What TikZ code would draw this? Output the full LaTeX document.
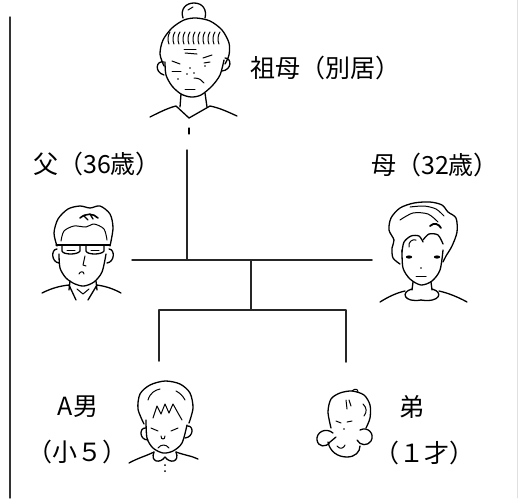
\documentclass[tikz,border=0pt]{standalone}
\usepackage{fontspec}
\newfontfamily\jp{Noto Sans CJK JP}
\begin{document}
\begin{tikzpicture}[x=1pt,y=-1pt,
  line cap=round,line join=round,
  tree/.style={line width=1.5pt,black!85},
  face/.style={line width=1.3pt},
  fine/.style={line width=1pt},
  lbl/.style={font=\jp\fontsize{25}{27}\selectfont,inner sep=0pt}]
\useasboundingbox (0,0) rectangle (518,498);

% frame lines at the sides
\draw[line width=1.4pt,black!80] (10,17) -- (10,498);
\draw[line width=0.8pt,black!12] (517,0) -- (517,498);

% ---------- family tree connectors ----------
\coordinate (gmstem) at (187,150);
\coordinate (fleft) at (132,260);
\coordinate (fmid) at (251,260);
\coordinate (fright) at (372,260);
\coordinate (gmfoot) at (187,260);
\coordinate (kbar) at (251,310);
\coordinate (kleft) at (159,310);
\coordinate (kright) at (346,310);
\coordinate (kA) at (159,361);
\coordinate (kB) at (346,362);
\draw[tree] (gmstem) -- (gmfoot);
\draw[tree] (fleft) -- (fright);
\draw[tree] (fmid) -- (kbar);
\draw[tree] (kA) -- (kleft) -- (kright) -- (kB);

% ---------- labels ----------
\node[lbl] (tgm) at (325,68) {祖母（別居）};
\node[lbl] (tfa) at (97,164) {父（36歳）};
\node[lbl] (tmo) at (435,165) {母（32歳）};
\node[lbl] (ta1) at (78,407) {A男};
\node[lbl] (ta2) at (77,452) {（小５）};
\node[lbl] (tb1) at (412,407) {弟};
\node[lbl] (tb2) at (424,453) {（１才）};

% ---------- grandmother ----------
\begin{scope}[face]
\draw (183,18) .. controls (180,9) and (186,3) .. (194,3) .. controls (203,3) and (207,10) .. (205,18);
\draw[fine] (188,10) -- (193,7);
\draw plot[smooth] coordinates {(164,66) (160,54) (163,40) (172,28) (184,20) (196,18) (210,21) (222,30) (229,43) (229,55) (225,64)};
\foreach \x in {169,174,179,184,189,194,199,204,209,214,219}
  \draw[fine] (\x,44) .. controls (\x-2,40) and (\x-1,35) .. (\x+1,32);
\draw plot[smooth] coordinates {(165,62) (166,75) (172,86) (181,94) (191,97) (201,95) (212,86) (220,75) (224,60)};
\draw (164,62) .. controls (156,60) and (154,72) .. (164,75);
\draw (225,58) .. controls (232,58) and (232,70) .. (222,71);
\draw[fine] (172,61) -- (180,64);
\draw[fine] (203,58) -- (212,55);
\draw[fine] (172,71) -- (181,71);
\draw[fine] (184,49) -- (196,49);
\draw[fine] (185,53) -- (197,54);
\draw[fine] (204,63) -- (210,62);
\fill (190,68) circle (0.9) (187,74) circle (0.9) (194,73) circle (0.9) (178,79) circle (0.8) (205,66) circle (0.8);
\draw[fine] (194,78) .. controls (199,78) and (202,80) .. (204,83);
\draw[fine] (185,89) -- (195,89);
\draw (181,94) -- (180,107);
\draw (205,93) -- (207,107);
\draw (150,117) .. controls (160,112) and (168,108) .. (176,106) -- (189,118);
\draw (237,116) .. controls (228,112) and (220,108) .. (210,106) -- (189,118);
\draw (189,128) -- (189,134);
\end{scope}

% ---------- father ----------
\begin{scope}[face]
\draw plot[smooth] coordinates {(57,246) (54,233) (58,219) (68,209) (80,206) (90,208) (100,206) (110,214) (113,228) (110,246)};
\draw[fine] plot[smooth] coordinates {(61,241) (64,231) (74,226) (86,227) (94,224) (104,229) (107,240)};
\draw[line width=1.6pt] (80,218) .. controls (86,213) and (93,213) .. (98,218);
\draw[line width=1.3pt] (84,216) -- (88,220) (90,214) -- (93,219);
\draw (56,245) -- (110,245);
\draw (62,245) -- (62,251) .. controls (63,255) and (78,255) .. (80,251) -- (80,245);
\draw (86,245) -- (86,251) .. controls (87,255) and (102,255) .. (104,251) -- (104,245);
\draw[fine] (67,250) -- (75,250) (91,250) -- (99,250);
\draw (57,249) .. controls (51,249) and (51,262) .. (59,263);
\draw (109,249) .. controls (115,249) and (115,262) .. (107,263);
\draw plot[smooth] coordinates {(59,254) (60,268) (66,278) (75,284) (84,286) (94,282) (102,272) (106,254)};
\draw[fine] (85,256) -- (83,265) -- (86,266);
\draw[fine] (79,274) .. controls (80,271) and (84,271) .. (84,274);
\draw (70,281) -- (69,290);
\draw (96,281) -- (97,290);
\draw (42,293) .. controls (52,288) and (60,286) .. (69,285) -- (76,300);
\draw (121,293) .. controls (112,288) and (104,286) .. (97,285) -- (88,300);
\draw[fine] (77,289) -- (83,294) -- (89,289);
\end{scope}

% ---------- mother ----------
\begin{scope}[face]
\draw plot[smooth] coordinates {(400,264) (393,258) (392,248) (394,240) (389,230) (391,218) (400,208) (414,203) (430,202) (442,205) (448,212) (456,218) (457,232) (452,246) (446,256) (443,262)};
\draw[fine] plot[smooth] coordinates {(400,220) (413,213) (428,214) (438,222)};
\draw[fine] plot[smooth] coordinates {(410,207) (424,206) (436,209) (444,216)};
\draw[line width=1.8pt] (430,226) .. controls (434,222) and (439,224) .. (441,228);
\draw plot[smooth] coordinates {(402,252) (404,242) (411,236) (419,236) (423,242)};
\draw[fine] (409,247) .. controls (408,242) and (412,239) .. (416,240);
\draw plot[smooth] coordinates {(423,240) (429,234) (438,235) (443,244)};
\draw plot[smooth] coordinates {(402,250) (403,268) (410,279) (421,285) (432,281) (440,270) (443,250)};
\fill (409,257) ellipse (3.2 and 1.6) (437,257) ellipse (3.2 and 1.6);
\fill (421,268) circle (0.9);
\draw[fine] (416,276) -- (426,276);
\draw (413,282) -- (412,290);
\draw (431,282) -- (432,290);
\draw (412,289) .. controls (400,292) and (404,303) .. (421,300);
\draw (432,289) .. controls (444,292) and (440,303) .. (421,300);
\draw (380,302) .. controls (388,297) and (396,293) .. (405,291);
\draw (439,291) .. controls (448,293) and (458,297) .. (467,302);
\end{scope}

% ---------- older son ----------
\begin{scope}[face]
\draw plot[smooth] coordinates {(144,424) (138,409) (140,394) (150,385) (165,381) (180,384) (190,393) (193,408) (189,423)};
\draw[fine] (148,400) .. controls (150,393) and (155,390) .. (160,389);
\draw[fine] (176,391) .. controls (180,393) and (183,396) .. (185,400);
\draw[fine] plot coordinates {(153,418) (157,406) (161,414) (165,404) (169,413) (173,404) (178,413) (182,420)};
\draw plot[smooth] coordinates {(146,420) (147,438) (153,448) (163,453) (173,451) (182,443) (187,425)};
\draw (146,428) .. controls (139,427) and (139,440) .. (148,440);
\draw (187,426) .. controls (194,425) and (194,437) .. (185,438);
\draw[fine] (151,428) -- (158,431) (171,431) -- (178,428);
\draw[fine] (161,436) .. controls (161,440) and (165,440) .. (165,436);
\draw[fine] (158,448) .. controls (161,444) and (166,444) .. (169,448);
\draw (129,463) .. controls (138,458) and (146,456) .. (154,452);
\draw (154,452) .. controls (150,462) and (160,464) .. (165,457) .. controls (170,464) and (180,462) .. (176,452);
\draw (176,452) .. controls (184,455) and (192,456) .. (198,459);
\fill (165,465) circle (1) (165,471) circle (1);
\end{scope}

% ---------- baby brother ----------
\begin{scope}[face]
\draw plot[smooth] coordinates {(331,428) (328,412) (331,399) (340,393) (352,391) (364,395) (370,405) (370,418) (366,428)};
\draw[fine] (352,391) .. controls (355,388) and (358,389) .. (358,392);
\draw[fine] (346,400) -- (347,409) (349,400) -- (351,406);
\draw[fine] (363,404) .. controls (367,408) and (367,412) .. (364,416);
\draw[fine] (336,421) -- (341,423) (347,422) -- (352,421);
\fill (344,429) circle (0.9);
\draw (333,433) .. controls (326,427) and (316,432) .. (317,440) .. controls (318,447) and (326,448) .. (330,442) -- (336,437);
\draw (360,430) .. controls (368,426) and (375,434) .. (371,441) .. controls (368,446) and (360,446) .. (357,440);
\draw (328,442) .. controls (330,452) and (338,457) .. (347,457) .. controls (355,457) and (360,452) .. (360,446);
\draw[fine] (337,446) .. controls (340,450) and (344,448) .. (345,445);
\end{scope}
\end{tikzpicture}
\end{document}
